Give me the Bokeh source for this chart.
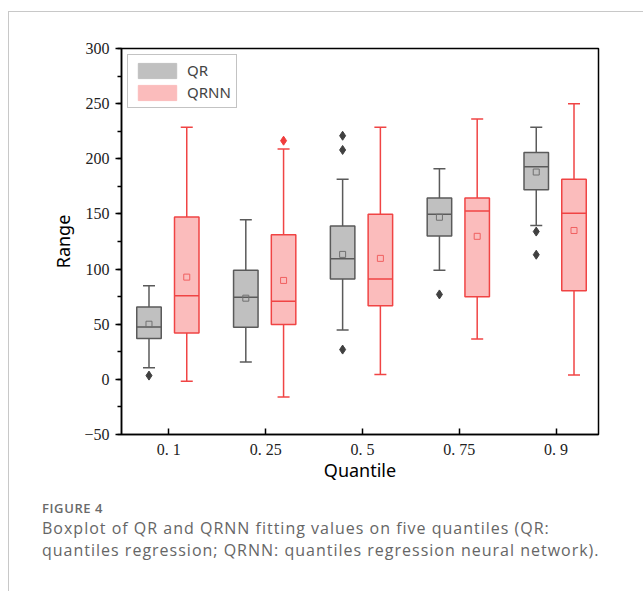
import numpy as np
from bokeh.plotting import figure
from bokeh.layouts import column
from bokeh.models import FixedTicker, SingleIntervalTicker, Legend, LegendItem, Div
from bokeh.embed import file_html
from bokeh.resources import INLINE

quantiles = ["0. 1", "0. 25", "0. 5", "0. 75", "0. 9"]

qr_lower = [10.6, 15.8, 44.8, 99, 139.4]
qr_q1 = [37, 47.3, 90.9, 130, 172]
qr_median = [47.5, 74.5, 109.4, 149.7, 192.7]
qr_q3 = [65.5, 99, 139, 164.5, 205.7]
qr_upper = [84.8, 144.8, 181.5, 191, 228.5]
qr_mean = [50, 73.6, 113.3, 147, 188]
qr_out_idx = [0, 2, 2, 2, 3, 4, 4]
qr_out_val = [3.4, 220.9, 208, 27, 77, 134, 113]

qrnn_lower = [-1.8, -16, 4.5, 36.7, 3.9]
qrnn_q1 = [42, 49.7, 66.7, 74.8, 80.3]
qrnn_median = [75.7, 70.9, 91, 152.7, 150.6]
qrnn_q3 = [147.3, 131.2, 149.7, 164.5, 181.5]
qrnn_upper = [228.5, 208.8, 228.5, 236, 250]
qrnn_mean = [92.7, 89.7, 109.7, 129.7, 135]
qrnn_out_idx = [1]
qrnn_out_val = [216.4]

caption_head = "FIGURE 4"
caption_line1 = "Boxplot of QR and QRNN fitting values on five quantiles (QR:"
caption_line2 = "quantiles regression; QRNN: quantiles regression neural network)."

# outer container starts at (8, 11) with a 1px border -> content at (9, 12)
OX, OY = 9, 12
FL, FR, FT, FB = 121 - OX, 598 - OX, 48 - OY, 434 - OY
PW, PH = 643 - OX, 490 - OY

p = figure(width=PW, height=PH, x_range=(0.511, 5.438), y_range=(-50, 300),
           output_backend="svg", toolbar_location=None,
           min_border_left=FL, min_border_right=PW - FR, min_border_top=FT, min_border_bottom=PH - FB)
p.background_fill_color = "white"
p.border_fill_color = "white"
p.outline_line_color = "black"
p.outline_line_width = 1.5
p.xgrid.visible = False
p.ygrid.visible = False

BW = 0.253
CW = 0.124


def draw(offset, lower, q1, med, q3, upper, mean, oidx, oval, line, fill, meanc, outc):
    xs = np.arange(1, len(quantiles) + 1) + offset
    p.segment(x0=xs, x1=xs, y0=q3, y1=upper, line_color=line, line_width=1.5)
    p.segment(x0=xs, x1=xs, y0=q1, y1=lower, line_color=line, line_width=1.5)
    p.segment(x0=xs - CW / 2, x1=xs + CW / 2, y0=upper, y1=upper, line_color=line, line_width=1.5)
    p.segment(x0=xs - CW / 2, x1=xs + CW / 2, y0=lower, y1=lower, line_color=line, line_width=1.5)
    p.vbar(x=xs, width=BW, bottom=q1, top=q3, fill_color=fill, line_color=line, line_width=1.5)
    p.segment(x0=xs - BW / 2, x1=xs + BW / 2, y0=med, y1=med, line_color=line, line_width=1.5)
    p.scatter(x=xs, y=mean, marker="square", size=6, fill_color=None, line_color=meanc, line_width=1)
    ox = np.array(oidx) + 1 + offset
    p.scatter(x=ox, y=oval, marker="diamond", size=9, fill_color=outc, line_color=outc)


draw(-0.205, qr_lower, qr_q1, qr_median, qr_q3, qr_upper, qr_mean, qr_out_idx, qr_out_val,
     "#5a5a5a", "#c0c0c0", "#707070", "#404040")
draw(0.185, qrnn_lower, qrnn_q1, qrnn_median, qrnn_q3, qrnn_upper, qrnn_mean, qrnn_out_idx, qrnn_out_val,
     "#f04444", "#fbbcbc", "#f06060", "#f03c3c")

# legend swatches (off-range dummy bars used only for the legend)
r_qr = p.vbar(x=[-100], width=0.1, top=[0], bottom=[0], fill_color="#c0c0c0", line_color="#c0c0c0")
r_qrnn = p.vbar(x=[-100], width=0.1, top=[0], bottom=[0], fill_color="#fbbcbc", line_color="#fbbcbc")
leg = Legend(items=[LegendItem(label="QR", renderers=[r_qr]), LegendItem(label="QRNN", renderers=[r_qrnn])],
             location="top_left", margin=6, padding=5, spacing=2, glyph_width=48, glyph_height=19,
             label_standoff=6, label_text_font="Noto Sans", label_text_font_size="15px",
             label_height=19, border_line_color="#888888", border_line_width=1,
             background_fill_color="white", background_fill_alpha=1)
p.add_layout(leg, "center")

# axes
xa = p.xaxis[0]
xa.ticker = FixedTicker(ticks=[1, 2, 3, 4, 5], minor_ticks=[])
xa.major_label_overrides = {i + 1: q for i, q in enumerate(quantiles)}
xa.major_tick_in = 6
xa.major_tick_out = 0
xa.minor_tick_in = 0
xa.minor_tick_out = 0
xa.axis_label = "Quantile"

ya = p.yaxis[0]
ya.ticker = SingleIntervalTicker(interval=50, num_minor_ticks=2)
ya.major_tick_in = 0
ya.major_tick_out = 6
ya.minor_tick_in = 0
ya.minor_tick_out = 4
ya.axis_label = "Range"

for ax in (xa, ya):
    ax.axis_line_color = "black"
    ax.axis_line_width = 1.5
    ax.major_tick_line_color = "black"
    ax.major_tick_line_width = 1.5
    ax.minor_tick_line_color = "black"
    ax.minor_tick_line_width = 1.5
    ax.major_label_text_font = "Liberation Serif"
    ax.major_label_text_font_size = "16px"
    ax.major_label_text_color = "#222222"
    ax.major_label_standoff = 6
    ax.axis_label_text_font = "Noto Sans"
    ax.axis_label_text_font_size = "18px"
    ax.axis_label_text_font_style = "normal"
    ax.axis_label_text_color = "black"
xa.axis_label_standoff = -3
ya.axis_label_standoff = 6

cap = Div(width=PW, height=591 - OY - PH, text=(
    '<div style="position:relative;width:%dpx;height:%dpx;font-family:\'Open Sans\',sans-serif;">'
    '<div style="position:absolute;left:28px;top:3px;font-size:13px;font-weight:600;color:#6a6a6a;'
    'letter-spacing:0.6px;line-height:20px;white-space:nowrap;">%s</div>'
    '<div style="position:absolute;left:28px;top:22px;font-size:16px;color:#666666;line-height:22px;'
    'letter-spacing:1px;white-space:nowrap;">%s<br>%s</div></div>'
) % (PW, 591 - OY - PH, caption_head, caption_line1, caption_line2))

layout = column(p, cap, spacing=0, margin=(11, 0, 0, 8),
                styles={"border-top": "1px solid #c8c8c8", "border-left": "1px solid #c8c8c8"})

open("out.html", "w").write(file_html(layout, INLINE))
